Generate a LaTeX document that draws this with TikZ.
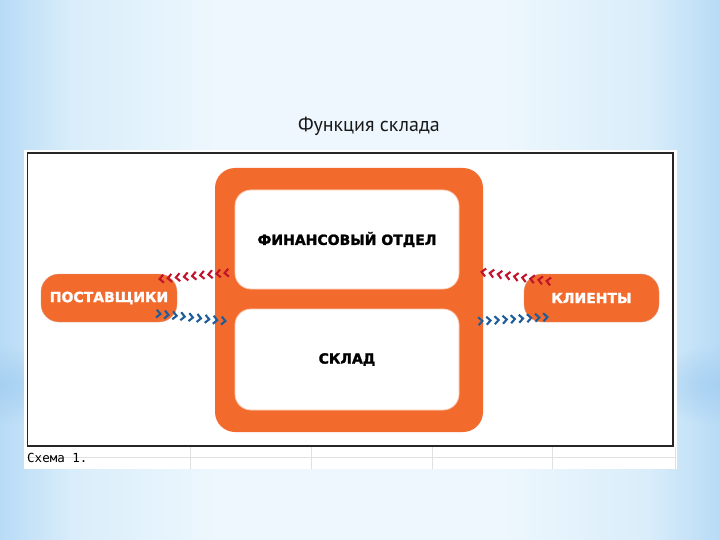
\documentclass[tikz,border=0pt]{standalone}
\usepackage{fontspec}
\setmainfont{DejaVu Sans}
\newfontfamily\titlefont{PT Sans}
\newfontfamily\heavy[FakeBold=1.6]{DejaVu Sans Bold}
\newfontfamily\capfont{DejaVu Sans Mono}
\usetikzlibrary{decorations.markings,fadings}
\definecolor{orng}{HTML}{F36A2D}
\definecolor{chred}{HTML}{C0142C}
\definecolor{chblue}{HTML}{1E5C9A}
\definecolor{bgin}{HTML}{EDF7FD}
\definecolor{bgmid}{HTML}{D9EDFA}
\definecolor{bgout}{HTML}{B8DBF6}
\definecolor{bandc}{HTML}{A6D0F2}
\pgfdeclarehorizontalshading{bgh}{100bp}{color(0bp)=(bgout); color(25bp)=(bgout); color(30bp)=(bgmid); color(40bp)=(bgin); color(60bp)=(bgin); color(70bp)=(bgmid); color(75bp)=(bgout); color(100bp)=(bgout)}
\tikzfading[name=softblob, inner color=transparent!0, outer color=transparent!100]
\begin{document}
\begin{tikzpicture}[x=1pt,y=-1pt,
  bigbox/.style={fill=orng, draw=none, rounded corners=20pt, minimum width=268pt, minimum height=264pt, inner sep=0pt},
  innerbox/.style={fill=white, draw=orng!35, line width=0.8pt, rounded corners=16pt, minimum width=224pt, inner sep=0pt,
     font=\heavy\fontsize{14}{16}\selectfont, text=black},
  pill/.style={fill=orng, draw=orng!80!black!60, line width=0.4pt, rounded corners=18pt, minimum height=48pt, inner sep=0pt,
     font=\heavy\fontsize{14}{16}\selectfont, text=white},
  chevs/.style={postaction={decorate}, decoration={markings,
     mark=between positions 0 and 1 step 0.125 with {\draw[line width=2.1pt, draw=#1, line cap=butt, line join=miter] (-3.6pt,4pt) -- (0.4pt,0pt) -- (-3.6pt,-4pt);}}},
  gridline/.style={draw=black!12, line width=0.6pt}
]
\useasboundingbox (0,0) rectangle (720,540);
% background
\shade[shading=bgh] (0,0) rectangle (720,540);
\fill[bandc, path fading=softblob] (-70,345) rectangle (70,425);
\fill[bandc, path fading=softblob] (650,345) rectangle (790,425);
% title
\node[font=\titlefont\fontsize{20}{24}\selectfont, text=black!90] (title) at (369,126) {Функция склада};
% white panel
\fill[white] (24,150) rectangle (677,469);
\draw[black!85, line width=1.5pt] (27.5,153) rectangle (673,446);
% table grid below
\draw[gridline] (27,457) -- (676,457);
\foreach \x in {190,311,432,552,675} \draw[gridline] (\x,447) -- (\x,469);
\node[anchor=west, font=\capfont\fontsize{12.5}{14}\selectfont, inner sep=0pt] (cap) at (27,458) {Схема 1.};
% main boxes
\node[bigbox] (sys) at (349,300) {};
\node[innerbox, minimum height=99pt] (fin) at (347,239.5) {ФИНАНСОВЫЙ ОТДЕЛ};
\node[innerbox, minimum height=101pt] (wh) at (347,359.5) {СКЛАД};
\node[pill, minimum width=136pt] (sup) at (109,298) {ПОСТАВЩИКИ};
\node[pill, minimum width=135pt] (cli) at (591.5,298) {КЛИЕНТЫ};
% connector end points
\coordinate (lr1) at (225,273);
\coordinate (lr2) at (160,279);
\coordinate (lb1) at (160,314);
\coordinate (lb2) at (225,321);
\coordinate (rr1) at (547,281);
\coordinate (rr2) at (482,272);
\coordinate (rb1) at (482,321);
\coordinate (rb2) at (547,317);
\path[chevs=chred] (lr1) -- (lr2);
\path[chevs=chblue] (lb1) -- (lb2);
\path[chevs=chred] (rr1) -- (rr2);
\path[chevs=chblue] (rb1) -- (rb2);
\end{tikzpicture}
\end{document}
